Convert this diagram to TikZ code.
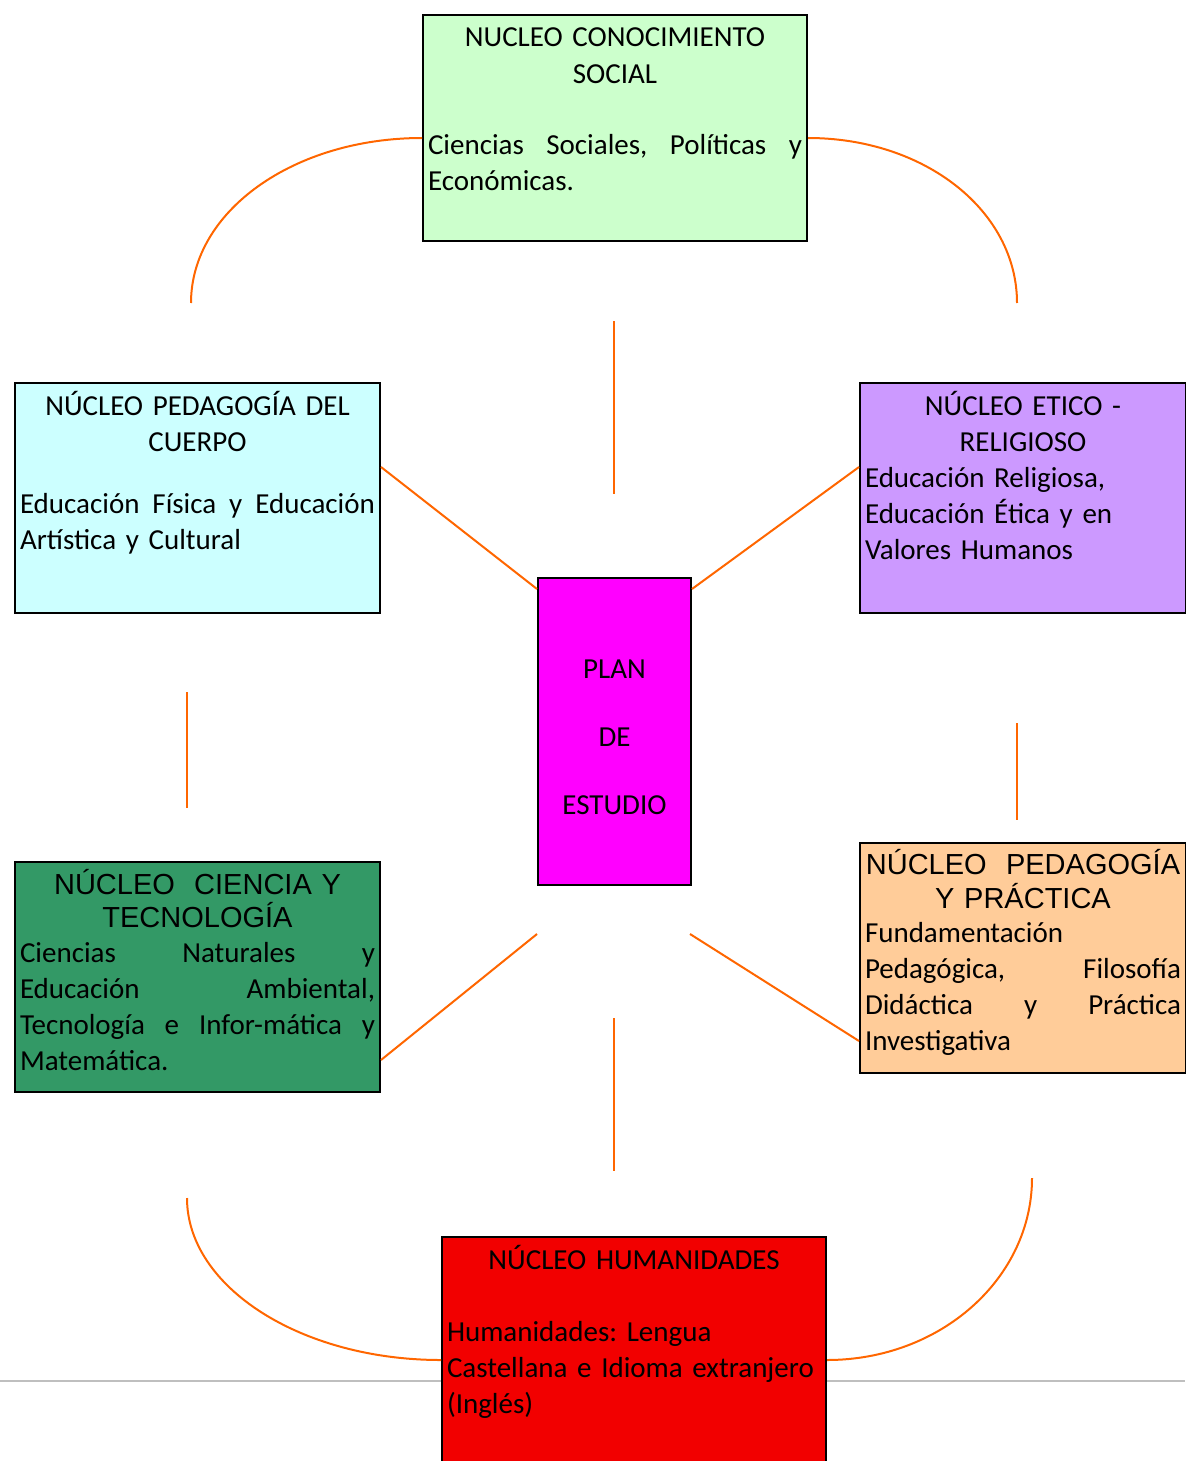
\documentclass[tikz,border=0pt]{standalone}
\usepackage{fontspec}
\setmainfont{Carlito}
\newfontfamily\arialfont{Liberation Sans}
\usepackage{tikz}
\frenchspacing

\definecolor{social}{HTML}{CCFFCC}
\definecolor{cuerpo}{HTML}{CCFFFF}
\definecolor{etico}{HTML}{CC99FF}
\definecolor{plan}{HTML}{FF00FF}
\definecolor{ciencia}{HTML}{339966}
\definecolor{practica}{HTML}{FFCC99}
\definecolor{humanidades}{HTML}{F20000}
\definecolor{naranja}{HTML}{FF6600}
\definecolor{gris}{HTML}{BFBFBF}

% linea centrada y linea justificada
\newcommand{\centrada}[1]{\makebox[\linewidth][c]{#1}}
\newcommand{\justa}[1]{\makebox[\linewidth][s]{\spaceskip=\fontdimen2\font plus 1fil\relax #1}}

\tikzset{
    nucleo/.style={
        draw=black, line width=1pt, anchor=north west,
        inner xsep=2.5pt, inner ysep=0pt,
        font=\fontsize{14.5}{18}\selectfont
    },
    enlace/.style={draw=naranja, line width=1pt}
}

\begin{document}
\begin{tikzpicture}[x=0.5pt, y=-0.5pt]

	\useasboundingbox (0,0) rectangle (1185,1461);

	% Línea gris de la página
	\draw[gris, line width=1.2pt] (0,1381) -- (1185,1381);

	% Núcleos
	\node[nucleo, fill=social, text width=187pt, text height=16pt, text depth=97pt]
		(social) at (422,14) {%
		\centrada{NUCLEO CONOCIMIENTO}\\
		\centrada{SOCIAL}\\[18pt]
		\justa{Ciencias Sociales, Políticas y}\\
		Económicas.};

	\node[nucleo, fill=cuerpo, text width=177.5pt, text height=16pt, text depth=99pt]
		(cuerpo) at (14,382) {%
		\centrada{NÚCLEO PEDAGOGÍA DEL}\\
		\centrada{CUERPO}\\[13pt]
		\justa{Educación Física y Educación}\\
		Artística y Cultural};

	\node[nucleo, fill=etico, text width=158pt, text height=16pt, text depth=99pt]
		(etico) at (859,382) {%
		\centrada{NÚCLEO ETICO -}\\
		\centrada{RELIGIOSO}\\
		Educación Religiosa,\\
		Educación Ética y en\\
		Valores Humanos};

	\node[nucleo, fill=plan, text width=71.5pt, text height=50pt, text depth=103.5pt]
		(plan) at (537,577) {%
		\centrada{PLAN}\\[16pt]
		\centrada{DE}\\[16pt]
		\centrada{ESTUDIO}};

	\node[nucleo, fill=ciencia, text width=177.5pt, text height=16pt, text depth=99pt]
		(ciencia) at (14,861) {%
		{\arialfont\centrada{NÚCLEO\ \ CIENCIA Y}}\\[-1.5pt]
		{\arialfont\centrada{TECNOLOGÍA}}\\[-0.5pt]
		\justa{Ciencias Naturales y}\\
		\justa{Educación Ambiental,}\\
		\justa{Tecnología e Infor-mática y}\\
		Matemática.};

	\node[nucleo, fill=practica, text width=158pt, text height=15.5pt, text depth=99.5pt]
		(practica) at (859,842) {%
		{\arialfont\centrada{NÚCLEO\ \ PEDAGOGÍA}}\\[-1pt]
		{\arialfont\centrada{Y PRÁCTICA}}\\[-1pt]
		Fundamentación\\
		\justa{Pedagógica, Filosofía}\\
		\justa{Didáctica y Práctica}\\
		Investigativa};

	\node[nucleo, fill=humanidades, text width=187pt, text height=16pt, text depth=101pt]
		(humanidades) at (441,1236) {%
		\centrada{NÚCLEO HUMANIDADES}\\[18pt]
		Humanidades: Lengua\\
		Castellana e Idioma extranjero\\
		(Inglés)};

	% Extremos libres de los enlaces
	\coordinate (arcoNO) at (191,303);
	\coordinate (arcoNE) at (1017,303);
	\coordinate (arcoSO) at (187,1198);
	\coordinate (arcoSE) at (1032,1178);
	\coordinate (vertA1) at (614,321);
	\coordinate (vertA2) at (614,494);
	\coordinate (vertB1) at (187,692);
	\coordinate (vertB2) at (187,808);
	\coordinate (vertC1) at (1017,723);
	\coordinate (vertC2) at (1017,820);
	\coordinate (vertD1) at (614,1018);
	\coordinate (vertD2) at (614,1171);
	\coordinate (diagSO) at (537,934);
	\coordinate (diagSE) at (690,934);

	% Arcos
	\draw[enlace] ([yshift=-5pt]social.west)
		.. controls +(-128,0) and +(0,-92) .. (arcoNO);
	\draw[enlace] ([yshift=-5pt]social.east)
		.. controls +(117,0) and +(0,-92) .. (arcoNE);
	\draw[enlace] (arcoSO)
		.. controls +(0,89) and +(-140,0) .. ([yshift=-3pt]humanidades.west);
	\draw[enlace] (arcoSE)
		.. controls +(0,100) and +(114,0) .. ([yshift=-3pt]humanidades.east);

	% Rectas hacia el plan de estudio
	\draw[enlace] ([yshift=15.5pt]cuerpo.east) -- ([yshift=-6pt]plan.north west);
	\draw[enlace] ([yshift=15.5pt]etico.west) -- ([yshift=-6pt]plan.north east);
	\draw[enlace] ([yshift=-41.5pt]ciencia.east) -- (diagSO);
	\draw[enlace] ([yshift=-41.5pt]practica.west) -- (diagSE);

	% Trazos verticales sueltos
	\draw[enlace] (vertA1) -- (vertA2);
	\draw[enlace] (vertB1) -- (vertB2);
	\draw[enlace] (vertC1) -- (vertC2);
	\draw[enlace] (vertD1) -- (vertD2);

\end{tikzpicture}
\end{document}
